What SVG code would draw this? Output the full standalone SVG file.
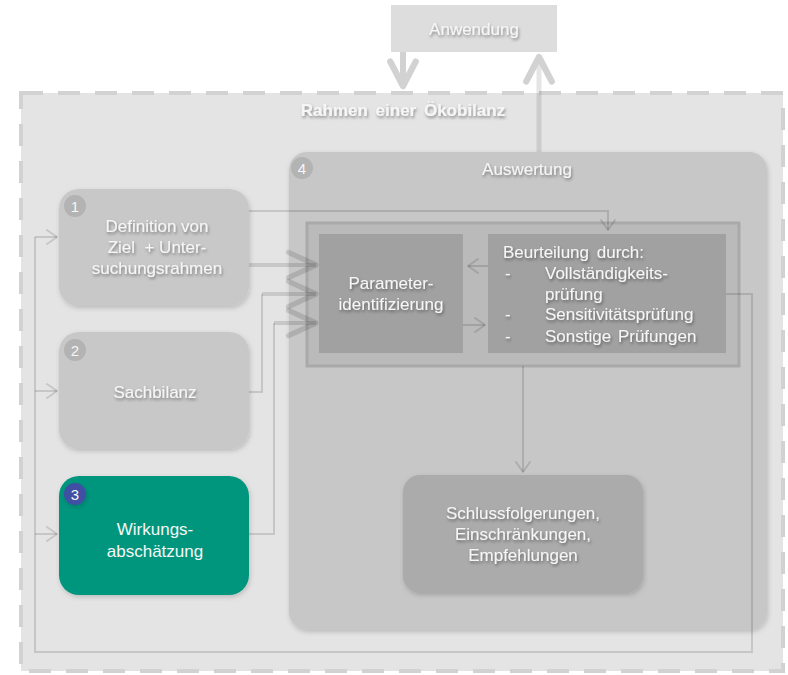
<svg xmlns="http://www.w3.org/2000/svg" width="788" height="675" viewBox="0 0 788 675">
  <defs>
    <style>
      .lbl { font-family: "Liberation Sans", Arial, sans-serif; font-size: 17px; fill: #f6f6f6; text-anchor: middle; filter: url(#txtShadow); }
      .lblL { font-family: "Liberation Sans", Arial, sans-serif; font-size: 17px; fill: #f6f6f6; filter: url(#txtShadow); }
      .badge { font-family: "Liberation Sans", Arial, sans-serif; font-size: 15px; fill: #f6f6f6; text-anchor: middle; }
      .thin { fill: none; stroke: #000; stroke-opacity: 0.13; stroke-width: 2; }
      .thick { fill: none; stroke: #000; stroke-opacity: 0.12; stroke-width: 4; }
      .head { fill: none; stroke-linecap: round; stroke-linejoin: round; }
    </style>
    <filter id="txtShadow" x="-20%" y="-40%" width="140%" height="190%">
      <feDropShadow dx="1" dy="2" stdDeviation="1.4" flood-color="#000" flood-opacity="0.4"/>
    </filter>
    <filter id="boxShadow" x="-10%" y="-10%" width="125%" height="130%">
      <feDropShadow dx="1" dy="2" stdDeviation="2.5" flood-color="#000" flood-opacity="0.18"/>
    </filter>
    <marker id="arrThin" markerUnits="userSpaceOnUse" markerWidth="20" markerHeight="20" viewBox="-12 -10 14 20" refX="0" refY="0" orient="auto">
      <path d="M-10,-7 L0,0 L-10,7" class="head" stroke="#000" stroke-opacity="0.13" stroke-width="2"/>
    </marker>
    <marker id="arrThick" markerUnits="userSpaceOnUse" markerWidth="36" markerHeight="36" viewBox="-30 -16 34 32" refX="0" refY="0" orient="auto">
      <path d="M-26,-12 L0,0 L-26,12" class="head" stroke="#000" stroke-opacity="0.12" stroke-width="5"/>
    </marker>
    <marker id="arrBig" markerUnits="userSpaceOnUse" markerWidth="36" markerHeight="36" viewBox="-30 -16 34 32" refX="0" refY="0" orient="auto">
      <path d="M-23,-12 L0,0 L-23,12" class="head" stroke="#d2d2d2" stroke-width="6"/>
    </marker>
  </defs>

  <rect width="788" height="675" fill="#ffffff"/>

  <!-- frame: scope of the life cycle assessment -->
  <g id="rahmen">
    <rect x="21" y="93" width="762" height="578" fill="#e4e4e4" stroke="#d2d2d2" stroke-width="4" stroke-dasharray="22 15"/>
    <text x="403" y="116" class="lbl" style="font-weight:bold; word-spacing:3px">Rahmen einer Ökobilanz</text>
  </g>

  <!-- application box -->
  <g id="anwendung">
    <rect x="391" y="5" width="166" height="47" fill="#dddddd"/>
    <text x="474" y="35" class="lbl">Anwendung</text>
  </g>

  <!-- interpretation container -->
  <g id="auswertung">
    <rect x="289" y="152" width="478" height="478" rx="18" fill="#c7c7c7" filter="url(#boxShadow)"/>
    <circle cx="302" cy="168" r="11" fill="#b3b3b3"/>
    <text x="302" y="173.5" class="badge">4</text>
    <text x="527" y="175" class="lbl">Auswertung</text>
  </g>

  <g id="pruefrahmen">
    <rect x="307" y="223" width="432" height="143" fill="#bababa" stroke="#a9a9a9" stroke-width="3"/>
  </g>

  <g id="parameter">
    <rect x="319" y="234" width="144" height="119" fill="#a1a1a1"/>
    <text x="391" y="289" class="lbl">Parameter-</text>
    <text x="391" y="310" class="lbl">identifizierung</text>
  </g>

  <g id="beurteilung">
    <rect x="488" y="234" width="238" height="119" fill="#a1a1a1"/>
    <text x="503" y="258" class="lblL" style="word-spacing:3px">Beurteilung durch:</text>
    <text x="505" y="279" class="lblL">-</text>
    <text x="545" y="279" class="lblL">Vollständigkeits-</text>
    <text x="545" y="300" class="lblL">prüfung</text>
    <text x="505" y="320" class="lblL">-</text>
    <text x="545" y="320" class="lblL">Sensitivitätsprüfung</text>
    <text x="505" y="342" class="lblL">-</text>
    <text x="545" y="342" class="lblL" style="word-spacing:2px">Sonstige Prüfungen</text>
  </g>

  <g id="schluss">
    <rect x="403" y="475" width="240" height="118" rx="17" fill="#ababab" filter="url(#boxShadow)"/>
    <text x="523" y="519" class="lbl">Schlussfolgerungen,</text>
    <text x="523" y="540" class="lbl">Einschränkungen,</text>
    <text x="523" y="561" class="lbl">Empfehlungen</text>
  </g>

  <g id="ziel">
    <rect x="59" y="189" width="190" height="117" rx="20" fill="#c8c8c8" filter="url(#boxShadow)"/>
    <circle cx="75" cy="206" r="11" fill="#b3b3b3"/>
    <text x="75" y="211.5" class="badge">1</text>
    <text x="157" y="232" class="lbl">Definition von</text>
    <text x="157" y="253" class="lbl" style="white-space:pre">Ziel  + Unter-</text>
    <text x="157" y="274" class="lbl">suchungsrahmen</text>
  </g>

  <g id="sachbilanz">
    <rect x="59" y="332" width="190" height="117" rx="20" fill="#c8c8c8" filter="url(#boxShadow)"/>
    <circle cx="75" cy="350" r="11" fill="#b3b3b3"/>
    <text x="75" y="355.5" class="badge">2</text>
    <text x="155" y="398" class="lbl">Sachbilanz</text>
  </g>

  <g id="wirkung">
    <rect x="59" y="476" width="190" height="119" rx="20" fill="#00967e" filter="url(#boxShadow)"/>
    <circle cx="75" cy="494" r="11" fill="#3f4fa3" filter="url(#boxShadow)"/>
    <text x="75" y="499.5" class="badge">3</text>
    <text x="155" y="535" class="lbl" style="filter:none">Wirkungs-</text>
    <text x="155" y="557" class="lbl" style="filter:none">abschätzung</text>
  </g>

  <!-- connectors -->
  <g id="connectors">
    <!-- to and from the application -->
    <path d="M403,52 V86" fill="none" stroke="#d2d2d2" stroke-width="6" marker-end="url(#arrBig)"/>
    <path d="M539,152 V57" fill="none" stroke="#000" stroke-opacity="0.1" stroke-width="5"/>
    <path d="M539,70 V57" fill="none" stroke="#d2d2d2" stroke-width="0" marker-end="url(#arrBig)"/>

    <!-- goal and scope to the evaluation step -->
    <path d="M249,211 H608 V230" class="thin" marker-end="url(#arrThin)"/>

    <!-- phases feeding parameter identification -->
    <path d="M249,265 H316" class="thick" marker-end="url(#arrThick)"/>
    <path d="M249,392 H262 V294" class="thin"/>
    <path d="M262,294 H316" class="thick" marker-end="url(#arrThick)"/>
    <path d="M249,534 H274 V323" class="thin"/>
    <path d="M274,323 H316" class="thick" marker-end="url(#arrThick)"/>

    <!-- between the two checks -->
    <path d="M488,266 H468" class="thin" marker-end="url(#arrThin)"/>
    <path d="M463,325 H485" class="thin" marker-end="url(#arrThin)"/>

    <!-- to conclusions -->
    <path d="M523,366 V472" class="thin" marker-end="url(#arrThin)"/>

    <!-- feedback loop to phases 1-3 -->
    <path d="M726,294 H752 V652 H35 V237" class="thin"/>
    <path d="M35,237 H57" class="thin" marker-end="url(#arrThin)"/>
    <path d="M35,391 H57" class="thin" marker-end="url(#arrThin)"/>
    <path d="M35,534 H57" class="thin" marker-end="url(#arrThin)"/>
  </g>
</svg>
